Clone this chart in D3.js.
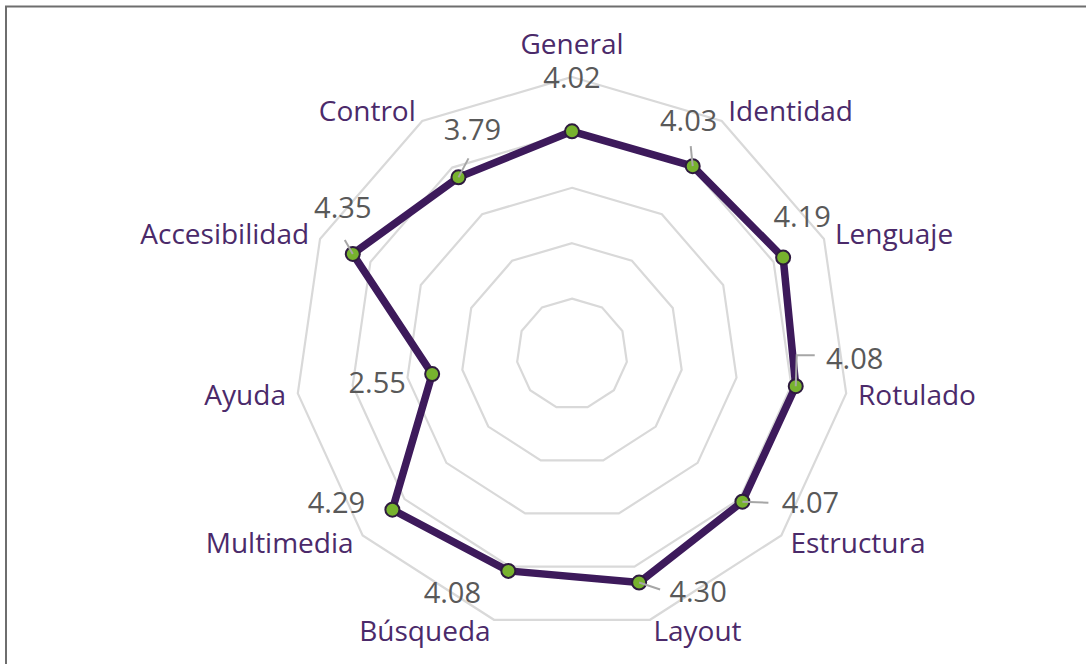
<!DOCTYPE html>
<html>
<head>
<meta charset="utf-8">
<script src="https://cdn.jsdelivr.net/npm/d3@7"></script>
<style>
  html, body { margin: 0; padding: 0; background: #ffffff; }
  svg { display: block; }
</style>
</head>
<body>
<svg id="chart" width="1086" height="664"></svg>
<script>
// Evaluation scores per heuristic category
const categories = ["General", "Identidad", "Lenguaje", "Rotulado", "Estructura", "Layout",
                    "Búsqueda", "Multimedia", "Ayuda", "Accesibilidad", "Control"];
const scores = [4.02, 4.03, 4.19, 4.08, 4.07, 4.30, 4.08, 4.29, 2.55, 4.35, 3.79];
const gridLevels = [1, 2, 3, 4, 5];

// Hand placement of the value labels (offset of label centre from its marker)
const labelNudge = [[0, -54], [-4, -46], [19, -41], [59, -28], [68, 1], [59, 9],
                    [-56, 22], [-56, -7], [-55, 8], [-10, -46], [14, -48]];
// Leader lines from marker toward moved labels (relative to marker)
const leaders = [null, [[-2, -20]], null, [[1, -31], [19, -31]], [[26, 1]], [[21, 7]],
                 null, null, null, [[-8, -14]], [[10, -19]]];

const W = 1086, H = 664;
const cx = 572, cy = 354;
const outerR = 277;

const svg = d3.select("#chart");

// frame (top and left edges)
svg.append("path")
  .attr("d", `M6,${H} L6,6.5 L${W},6.5`)
  .attr("fill", "none")
  .attr("stroke", "#6e6e6e")
  .attr("stroke-width", 2);

const r = d3.scaleLinear().domain([0, 5]).range([0, outerR]);
const angle = d3.scaleLinear().domain([0, categories.length]).range([0, 2 * Math.PI]);

const g = svg.append("g").attr("transform", `translate(${cx},${cy})`);

// polygonal grid rings
const ringLine = d3.lineRadial()
  .angle((d, i) => angle(i))
  .radius(d => r(d))
  .curve(d3.curveLinearClosed);

g.selectAll("path.ring")
  .data(gridLevels)
  .join("path")
  .attr("class", "ring")
  .attr("d", lvl => ringLine(categories.map(() => lvl)))
  .attr("fill", "none")
  .attr("stroke", "#d9d9d9")
  .attr("stroke-width", 2.2);

// data polygon
const dataLine = d3.lineRadial()
  .angle((d, i) => angle(i))
  .radius(d => r(d))
  .curve(d3.curveLinearClosed);

g.append("path")
  .attr("d", dataLine(scores))
  .attr("fill", "none")
  .attr("stroke", "#3d1a5b")
  .attr("stroke-width", 7.5)
  .attr("stroke-linejoin", "round");

const px = i => r(scores[i]) * Math.sin(angle(i));
const py = i => -r(scores[i]) * Math.cos(angle(i));

// markers
g.selectAll("circle.pt")
  .data(scores)
  .join("circle")
  .attr("class", "pt")
  .attr("cx", (d, i) => px(i))
  .attr("cy", (d, i) => py(i))
  .attr("r", 7)
  .attr("fill", "#77b22e")
  .attr("stroke", "#2e1a3f")
  .attr("stroke-width", 2);

// leader lines
leaders.forEach((pts, i) => {
  if (!pts) return;
  const path = d3.path();
  path.moveTo(px(i), py(i));
  pts.forEach(p => path.lineTo(px(i) + p[0], py(i) + p[1]));
  g.append("path")
    .attr("d", path.toString())
    .attr("fill", "none")
    .attr("stroke", "#a6a6a6")
    .attr("stroke-width", 2);
});

// value labels
const valSize = 29;
g.selectAll("text.val")
  .data(scores)
  .join("text")
  .attr("class", "val")
  .attr("x", (d, i) => px(i) + labelNudge[i][0])
  .attr("y", (d, i) => py(i) + labelNudge[i][1] + valSize * 0.36)
  .attr("text-anchor", "middle")
  .attr("font-family", "'Open Sans', sans-serif")
  .attr("font-size", valSize)
  .attr("fill", "#595959")
  .text(d => d.toFixed(2));

// category labels around the outer ring
const catSize = 28;
const labelR = 289;
g.selectAll("text.cat")
  .data(categories)
  .join("text")
  .attr("class", "cat")
  .each(function (d, i) {
    const a = angle(i);
    const s = Math.sin(a), c = Math.cos(a);
    const rr = Math.abs(s) < 0.1 ? labelR + 21 : labelR;
    const x = rr * s, y = -rr * c;
    d3.select(this)
      .attr("x", x)
      .attr("y", y + catSize * 0.36)
      .attr("text-anchor", Math.abs(s) < 0.1 ? "middle" : (s > 0 ? "start" : "end"));
  })
  .attr("font-family", "'Open Sans', sans-serif")
  .attr("font-size", catSize)
  .attr("fill", "#4b2a6a")
  .text(d => d);
</script>
</body>
</html>
